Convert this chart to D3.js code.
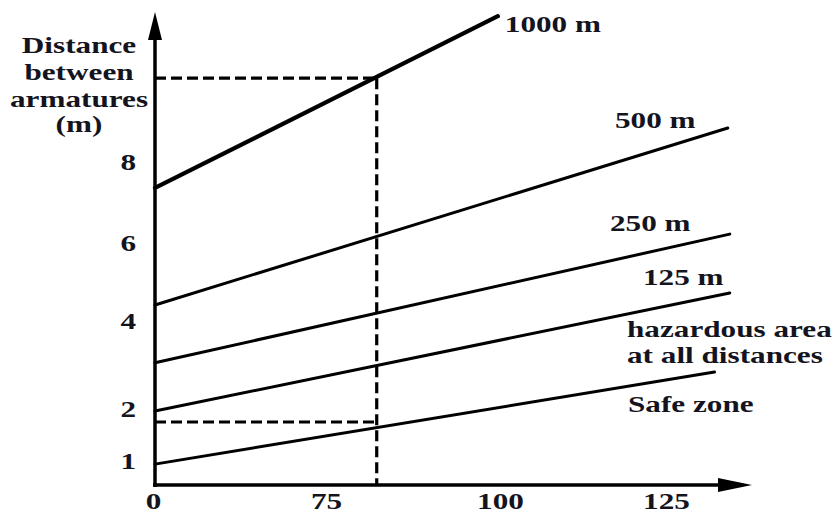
<!DOCTYPE html>
<html>
<head>
<meta charset="utf-8">
<script src="https://cdn.jsdelivr.net/npm/d3@7"></script>
<style>
  html, body { margin: 0; padding: 0; background: #fff; }
  svg { display: block; }
  text { font-family: "Liberation Serif", "Times New Roman", serif; font-weight: bold; fill: #141420; }
</style>
</head>
<body>
<svg id="chart" width="834" height="515"></svg>
<script>
// ---- data ----
const xTicks = [0, 75, 100, 125];
const yTicks = [1, 2, 4, 6, 8];
const seriesNames = ["Safe zone limit", "125 m", "250 m", "500 m", "1000 m"];
const startX = [0, 0, 0, 0, 0];
const endX = [132, 134.3, 134.3, 134, 99.4];
const startY = [0.94, 1.96, 3.05, 4.41, 7.36];
const endY = [2.84, 4.72, 6.22, 8.84, 11.6];
const readX = 82;
const readY = [1.75, 10.07];
const yTitle = ["Distance", "between", "armatures", "(m)"];
const zoneLabels = ["hazardous area", "at all distances", "Safe zone"];

// ---- layout ----
const svg = d3.select("#chart");
const X0 = 155, Y0 = 485;
const SX = 1.3; // horizontal text stretch of the original
const FS = 24;

// schematic (non-uniform) axes, as in the original drawing
const x = d3.scaleLinear().domain(xTicks).range([155, 328, 502, 668]);
const y = d3.scaleLinear().domain(yTicks).range([461, 409, 321, 243, 162]);

function stretchedText(g, px, py, str, anchor) {
  return g.append("text")
    .attr("transform", `translate(${px},${py}) scale(${SX},1)`)
    .attr("text-anchor", anchor || "start")
    .style("font-size", FS + "px")
    .text(str);
}

// axes lines with arrows
svg.append("line").attr("x1", X0).attr("y1", Y0 + 2).attr("x2", X0).attr("y2", 30)
  .attr("stroke", "#000").attr("stroke-width", 3.5);
svg.append("path").attr("d", `M${X0},12 L${X0 + 7},40 L${X0 - 7},40 Z`).attr("fill", "#000");
svg.append("line").attr("x1", X0 - 2).attr("y1", Y0).attr("x2", 730).attr("y2", Y0)
  .attr("stroke", "#000").attr("stroke-width", 3.5);
svg.append("path").attr("d", `M752,${Y0} L718,${Y0 - 7} L718,${Y0 + 7} Z`).attr("fill", "#000");

// tick labels via d3 axes
const gx = svg.append("g").attr("transform", `translate(0,${Y0})`)
  .call(d3.axisBottom(x).tickValues(xTicks).tickSize(0).tickFormat(d3.format("d")));
gx.select(".domain").remove();
gx.selectAll(".tick text")
  .attr("y", null).attr("dy", null)
  .attr("transform", `translate(-2,24) scale(${SX},1)`)
  .attr("fill", "#141420")
  .style("font-size", FS + "px")
  .style("font-family", '"Liberation Serif", serif').style("font-weight", "bold");

const gy = svg.append("g").attr("transform", `translate(${X0},0)`)
  .call(d3.axisLeft(y).tickValues(yTicks).tickSize(0).tickFormat(d3.format("d")));
gy.select(".domain").remove();
gy.selectAll(".tick text")
  .attr("x", null).attr("dy", null)
  .attr("transform", `translate(-19,7) scale(${SX},1)`)
  .attr("text-anchor", "end")
  .attr("fill", "#141420")
  .style("font-size", FS + "px")
  .style("font-family", '"Liberation Serif", serif').style("font-weight", "bold");

// y-axis title
const titleBase = [53, 80, 107, 132];
yTitle.forEach((t, i) => stretchedText(svg, 79, titleBase[i], t, "middle"));

// dashed reading lines
const dash = svg.append("g").attr("stroke", "#000").attr("stroke-width", 3.2)
  .attr("stroke-dasharray", "11,5").attr("fill", "none");
dash.append("line").attr("x1", x(readX)).attr("x2", x(readX))
  .attr("y1", y(readY[1])).attr("y2", Y0);
readY.forEach(v => {
  dash.append("line").attr("x1", X0).attr("x2", x(readX))
    .attr("y1", y(v)).attr("y2", y(v));
});

// series lines
const lineGen = d3.line().x(d => x(d[0])).y(d => y(d[1]));
seriesNames.forEach((name, i) => {
  svg.append("path")
    .datum([[startX[i], startY[i]], [endX[i], endY[i]]])
    .attr("d", lineGen)
    .attr("fill", "none")
    .attr("stroke", "#000")
    .attr("stroke-width", i === 4 ? 4.2 : 3)
    .attr("stroke-linecap", "round");
});

// line labels
stretchedText(svg, x(endX[4]) + 7, y(endY[4]) + 16, seriesNames[4]);
stretchedText(svg, 615, y(endY[3]), seriesNames[3]);
stretchedText(svg, 610, 231, seriesNames[2]);
stretchedText(svg, 643, 285, seriesNames[1]);
stretchedText(svg, 627, 337, zoneLabels[0]);
stretchedText(svg, 627, 363, zoneLabels[1]);
stretchedText(svg, 628, 412, zoneLabels[2]);
</script>
</body>
</html>
